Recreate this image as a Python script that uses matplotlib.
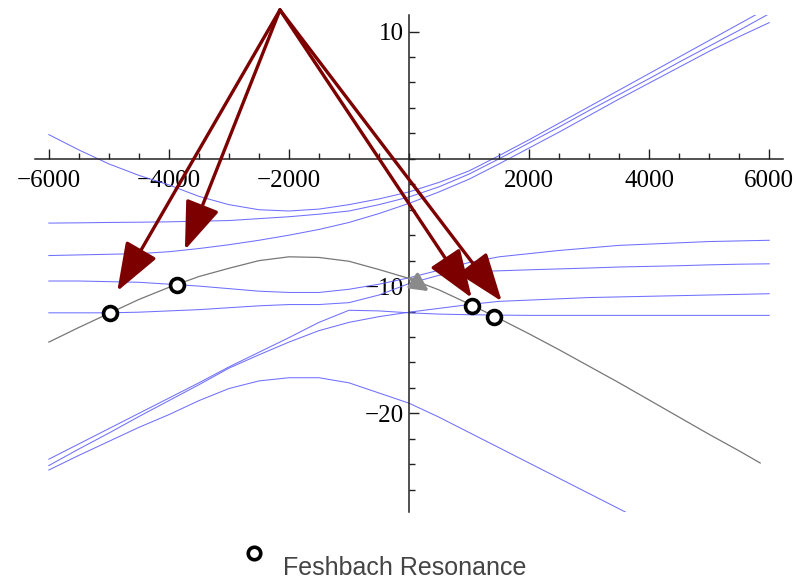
#! /usr/bin/env python3

"""
Energy levels vs. field, with the Feshbach resonances marked where the
bare molecular level (grey) crosses the atomic levels (blue).
"""
import matplotlib
matplotlib.use('Agg')
import matplotlib.pyplot as plt
from matplotlib.lines import Line2D
from matplotlib.ticker import FixedLocator, MultipleLocator

# field values shared by the blue levels
field = [-6000, -5500, -5000, -4500, -4000, -3500, -3000, -2500, -2000,
         -1500, -1000, -500, 0, 500, 1000, 1500, 2000, 2500, 3000, 3500,
         4000, 4500, 5000, 5500, 6000]

level_1 = [1.9, 0.7, -0.4, -1.3, -2.05, -2.95, -3.6, -4.0, -4.1, -3.95,
           -3.6, -3.15, -2.6, -1.85, -0.95, 0.25, 1.5, 2.8, 4.1, 5.4,
           6.7, 8.0, 9.3, 10.6, 11.9]
level_2 = [-5.05, -5.03, -5.0, -4.98, -4.95, -4.9, -4.85, -4.7, -4.55,
           -4.35, -4.1, -3.6, -3.0, -2.2, -1.2, 0.0, 1.25, 2.5, 3.8, 5.05,
           6.3, 7.6, 8.85, 10.1, 11.4]
level_3 = [-7.6, -7.55, -7.5, -7.45, -7.3, -7.05, -6.75, -6.4, -6.0,
           -5.55, -5.0, -4.3, -3.5, -2.6, -1.6, -0.4, 0.85, 2.1, 3.4, 4.7,
           5.95, 7.2, 8.45, 9.6, 10.7]
level_4 = [-9.6, -9.6, -9.65, -9.7, -9.85, -10.0, -10.2, -10.4, -10.5,
           -10.5, -10.25, -9.85, -9.35, -8.75, -8.15, -7.7, -7.45, -7.2,
           -7.0, -6.8, -6.7, -6.6, -6.5, -6.45, -6.4]
level_5 = [-12.1, -12.1, -12.1, -12.05, -11.95, -11.85, -11.7, -11.55,
           -11.45, -11.45, -11.3, -10.7, -9.8, -9.15, -8.85, -8.8, -8.72,
           -8.65, -8.58, -8.5, -8.45, -8.4, -8.33, -8.28, -8.25]
level_6 = [-23.6, -22.4, -21.2, -20.0, -18.8, -17.6, -16.35, -15.2, -14.05,
           -12.85, -11.9, -11.95, -12.1, -12.2, -12.25, -12.28, -12.3,
           -12.3, -12.3, -12.3, -12.3, -12.3, -12.3, -12.3, -12.3]
level_7 = [-24.1, -22.8, -21.55, -20.25, -19.0, -17.75, -16.45, -15.4,
           -14.4, -13.5, -12.85, -12.4, -12.05, -11.75, -11.45, -11.2,
           -11.1, -11.0, -10.9, -10.85, -10.8, -10.75, -10.7, -10.65, -10.6]
# the lowest level runs off the bottom after 4000
level_8 = [-24.45, -23.3, -22.2, -21.1, -20.1, -19.0, -18.05, -17.45, -17.2,
           -17.2, -17.6, -18.4, -19.2, -20.3, -21.5, -22.7, -23.9, -25.1,
           -26.3, -27.5, -28.7]

bare_field = [-6000, -5500, -5000, -4500, -4000, -3500, -3000, -2500,
              -2000, -1500, -1000, -500, 0, 500, 1000, 1500, 2000, 2500,
              3000, 3500, 4000, 4500, 5000, 5500, 5850]
bare_level = [-14.4, -13.25, -12.15, -11.05, -10.1, -9.25, -8.6, -8.0, -7.7,
              -7.75, -8.05, -8.7, -9.4, -10.3, -11.4, -12.55, -13.75, -15.0,
              -16.3, -17.6, -18.95, -20.3, -21.65, -22.95, -23.9]

res_field = [-4983, -3867, 1050, 1417]
res_energy = [-12.1, -9.9, -11.55, -12.4]

arrow_origin = (-2150, 11.7)
arrow_tip_field = [-4860, -3733, 1045, 1545]
arrow_tip_energy = [-10.4, -7.15, -10.93, -11.2]

x_major = [-6000, -4000, -2000, 2000, 4000, 6000]
y_major = [-20, -10, 10]


def setup_axes(fig):
    ax = fig.add_axes([0.044, 0.1157, 0.9397, 0.8584])
    ax.set_xlim(-6230, 6230)
    ax.set_ylim(-27.75, 11.3)
    for side in ('top', 'right'):
        ax.spines[side].set_visible(False)
    for side in ('left', 'bottom'):
        ax.spines[side].set_position(('data', 0))
        ax.spines[side].set_linewidth(1.1)
        ax.spines[side].set_color('#222222')
    ax.xaxis.set_major_locator(FixedLocator(x_major))
    ax.xaxis.set_minor_locator(MultipleLocator(500))
    ax.yaxis.set_major_locator(FixedLocator(y_major))
    ax.yaxis.set_minor_locator(MultipleLocator(2))
    ax.tick_params(which='both', direction='in', color='#222222', width=1.0)
    ax.tick_params(which='major', length=7, labelsize=18)
    ax.tick_params(which='minor', length=4)
    ax.tick_params(axis='x', which='major', pad=8)
    ax.tick_params(axis='y', which='major', pad=4)
    ax.patch.set_visible(False)
    return ax


def main():
    plt.rcParams['font.family'] = ['Liberation Serif', 'DejaVu Serif']
    fig = plt.figure(figsize=(7.96, 5.79), dpi=100)
    ax = setup_axes(fig)

    blue = dict(color='#6060ff', lw=0.75, alpha=0.9, zorder=2)
    for lvl in (level_1, level_2, level_3, level_4, level_5, level_6,
                level_7):
        ax.plot(field, lvl, **blue)
    ax.plot(field[:len(level_8)], level_8, **blue)

    ax.plot(bare_field, bare_level, color='#777777', lw=0.9, zorder=3)

    # small grey arrow near the origin
    ax.annotate('', xy=(333, -10.4), xytext=(17, -9.4),
                arrowprops=dict(arrowstyle='-|>,head_length=0.9,head_width=0.45',
                                mutation_scale=12, color='#8a8a8a', lw=2.5,
                                shrinkA=0, shrinkB=0), zorder=4)

    for tx, ty in zip(arrow_tip_field, arrow_tip_energy):
        ax.annotate('', xy=(tx, ty), xytext=arrow_origin,
                    annotation_clip=False,
                    arrowprops=dict(arrowstyle='-|>,head_length=3.0,head_width=1.1',
                                    mutation_scale=10, color='#7d0000',
                                    lw=2.4, shrinkA=0, shrinkB=0,
                                    clip_on=False),
                    zorder=5)

    ax.plot(res_field, res_energy, 'o', ms=10, mfc='white', mec='black',
            mew=2.6, zorder=6, clip_on=False)

    # legend, drawn by hand below the plot
    fig.add_artist(Line2D([0.319], [0.045], marker='o', ms=9, mfc='white',
                          mec='black', mew=2.6, transform=fig.transFigure))
    fig.text(0.3555, 0.0075, 'Feshbach Resonance', family='Liberation Sans',
             fontsize=18, color='#444444', va='baseline')

    fig.savefig('out.png', dpi=100)


if __name__ == '__main__':
    main()
